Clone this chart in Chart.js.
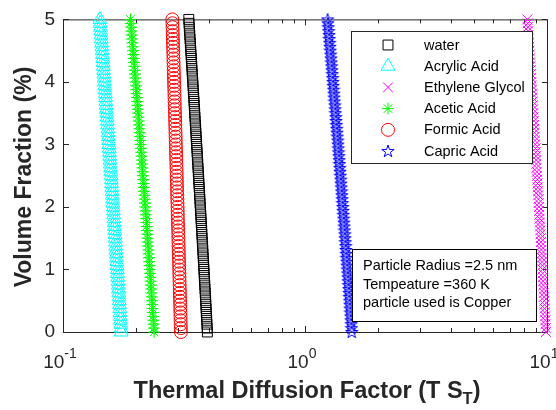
<!DOCTYPE html>
<html>
<head>
<meta charset="utf-8">
<script src="https://cdn.jsdelivr.net/npm/chart.js@4.4.0/dist/chart.umd.min.js"></script>
<style>
  html, body { margin: 0; padding: 0; background: #fff; }
  #wrap { width: 556px; height: 410px; }
</style>
</head>
<body>
<div id="wrap"><canvas id="chart" width="556" height="410"></canvas></div>
<script>
// volume fraction (%) - y values shared by every series
const volumeFraction = [
  0, 0.0625, 0.125, 0.1875, 0.25, 0.3125, 0.375, 0.4375, 0.5, 0.5625, 0.625, 0.6875, 0.75, 0.8125, 0.875, 0.9375,
  1, 1.0625, 1.125, 1.1875, 1.25, 1.3125, 1.375, 1.4375, 1.5, 1.5625, 1.625, 1.6875, 1.75, 1.8125, 1.875, 1.9375,
  2, 2.0625, 2.125, 2.1875, 2.25, 2.3125, 2.375, 2.4375, 2.5, 2.5625, 2.625, 2.6875, 2.75, 2.8125, 2.875, 2.9375,
  3, 3.0625, 3.125, 3.1875, 3.25, 3.3125, 3.375, 3.4375, 3.5, 3.5625, 3.625, 3.6875, 3.75, 3.8125, 3.875, 3.9375,
  4, 4.0625, 4.125, 4.1875, 4.25, 4.3125, 4.375, 4.4375, 4.5, 4.5625, 4.625, 4.6875, 4.75, 4.8125, 4.875, 4.9375,
  5
];

// thermal diffusion factor (T S_T) for each base fluid
const water = [
  0.3950, 0.3942, 0.3934, 0.3926, 0.3918, 0.3910, 0.3902, 0.3894, 0.3886, 0.3878,
  0.3870, 0.3862, 0.3854, 0.3846, 0.3838, 0.3830, 0.3822, 0.3814, 0.3806, 0.3798,
  0.3790, 0.3782, 0.3774, 0.3766, 0.3758, 0.3750, 0.3742, 0.3734, 0.3726, 0.3718,
  0.3710, 0.3702, 0.3694, 0.3686, 0.3678, 0.3670, 0.3662, 0.3654, 0.3646, 0.3638,
  0.3630, 0.3622, 0.3614, 0.3606, 0.3598, 0.3590, 0.3582, 0.3574, 0.3566, 0.3558,
  0.3550, 0.3542, 0.3534, 0.3526, 0.3518, 0.3510, 0.3502, 0.3494, 0.3486, 0.3478,
  0.3470, 0.3462, 0.3454, 0.3446, 0.3438, 0.3430, 0.3422, 0.3414, 0.3406, 0.3398,
  0.3390, 0.3382, 0.3374, 0.3366, 0.3358, 0.3350, 0.3342, 0.3334, 0.3326, 0.3318,
  0.3310
];
const acrylicAcid = [
  0.1740, 0.1736, 0.1732, 0.1728, 0.1724, 0.1720, 0.1716, 0.1712, 0.1708, 0.1704,
  0.1700, 0.1696, 0.1692, 0.1688, 0.1684, 0.1680, 0.1676, 0.1672, 0.1668, 0.1664,
  0.1660, 0.1656, 0.1652, 0.1648, 0.1644, 0.1640, 0.1636, 0.1632, 0.1628, 0.1624,
  0.1620, 0.1616, 0.1612, 0.1608, 0.1604, 0.1600, 0.1596, 0.1592, 0.1588, 0.1584,
  0.1580, 0.1576, 0.1572, 0.1568, 0.1564, 0.1560, 0.1556, 0.1552, 0.1548, 0.1544,
  0.1540, 0.1536, 0.1532, 0.1528, 0.1524, 0.1520, 0.1516, 0.1512, 0.1508, 0.1504,
  0.1500, 0.1496, 0.1492, 0.1488, 0.1484, 0.1480, 0.1476, 0.1472, 0.1468, 0.1464,
  0.1460, 0.1456, 0.1452, 0.1448, 0.1444, 0.1440, 0.1436, 0.1432, 0.1428, 0.1424,
  0.1420
];
const ethyleneGlycol = [
  9.90, 9.88, 9.86, 9.84, 9.82, 9.80, 9.78, 9.76, 9.74, 9.72,
  9.70, 9.68, 9.66, 9.64, 9.62, 9.60, 9.58, 9.56, 9.54, 9.52,
  9.50, 9.48, 9.46, 9.44, 9.42, 9.40, 9.38, 9.36, 9.34, 9.32,
  9.30, 9.28, 9.26, 9.24, 9.22, 9.20, 9.18, 9.16, 9.14, 9.12,
  9.10, 9.08, 9.06, 9.04, 9.02, 9.00, 8.98, 8.96, 8.94, 8.92,
  8.90, 8.88, 8.86, 8.84, 8.82, 8.80, 8.78, 8.76, 8.74, 8.72,
  8.70, 8.68, 8.66, 8.64, 8.62, 8.60, 8.58, 8.56, 8.54, 8.52,
  8.50, 8.48, 8.46, 8.44, 8.42, 8.40, 8.38, 8.36, 8.34, 8.32,
  8.30
];
const aceticAcid = [
  0.2380, 0.2374, 0.2368, 0.2362, 0.2356, 0.2350, 0.2344, 0.2338, 0.2332, 0.2326,
  0.2320, 0.2314, 0.2308, 0.2302, 0.2296, 0.2290, 0.2284, 0.2278, 0.2272, 0.2266,
  0.2260, 0.2254, 0.2248, 0.2242, 0.2236, 0.2230, 0.2224, 0.2218, 0.2212, 0.2206,
  0.2200, 0.2194, 0.2188, 0.2182, 0.2176, 0.2170, 0.2164, 0.2158, 0.2152, 0.2146,
  0.2140, 0.2134, 0.2128, 0.2122, 0.2116, 0.2110, 0.2104, 0.2098, 0.2092, 0.2086,
  0.2080, 0.2074, 0.2068, 0.2062, 0.2056, 0.2050, 0.2044, 0.2038, 0.2032, 0.2026,
  0.2020, 0.2014, 0.2008, 0.2002, 0.1996, 0.1990, 0.1984, 0.1978, 0.1972, 0.1966,
  0.1960, 0.1954, 0.1948, 0.1942, 0.1936, 0.1930, 0.1924, 0.1918, 0.1912, 0.1906,
  0.1900
];
const formicAcid = [
  0.3070, 0.3067, 0.3064, 0.3061, 0.3058, 0.3055, 0.3052, 0.3049, 0.3046, 0.3043,
  0.3040, 0.3037, 0.3034, 0.3031, 0.3028, 0.3025, 0.3022, 0.3019, 0.3016, 0.3013,
  0.3010, 0.3007, 0.3004, 0.3001, 0.2998, 0.2995, 0.2992, 0.2989, 0.2986, 0.2983,
  0.2980, 0.2977, 0.2974, 0.2971, 0.2968, 0.2965, 0.2962, 0.2959, 0.2956, 0.2953,
  0.2950, 0.2947, 0.2944, 0.2941, 0.2938, 0.2935, 0.2932, 0.2929, 0.2926, 0.2923,
  0.2920, 0.2917, 0.2914, 0.2911, 0.2908, 0.2905, 0.2902, 0.2899, 0.2896, 0.2893,
  0.2890, 0.2887, 0.2884, 0.2881, 0.2878, 0.2875, 0.2872, 0.2869, 0.2866, 0.2863,
  0.2860, 0.2857, 0.2854, 0.2851, 0.2848, 0.2845, 0.2842, 0.2839, 0.2836, 0.2833,
  0.2830
];
const capricAcid = [
  1.560, 1.556, 1.552, 1.548, 1.544, 1.540, 1.536, 1.532, 1.528, 1.524,
  1.520, 1.516, 1.512, 1.508, 1.504, 1.500, 1.496, 1.492, 1.488, 1.484,
  1.480, 1.476, 1.472, 1.468, 1.464, 1.460, 1.456, 1.452, 1.448, 1.444,
  1.440, 1.436, 1.432, 1.428, 1.424, 1.420, 1.416, 1.412, 1.408, 1.404,
  1.400, 1.396, 1.392, 1.388, 1.384, 1.380, 1.376, 1.372, 1.368, 1.364,
  1.360, 1.356, 1.352, 1.348, 1.344, 1.340, 1.336, 1.332, 1.328, 1.324,
  1.320, 1.316, 1.312, 1.308, 1.304, 1.300, 1.296, 1.292, 1.288, 1.284,
  1.280, 1.276, 1.272, 1.268, 1.264, 1.260, 1.256, 1.252, 1.248, 1.244,
  1.240
];

const seriesNames = ['water', 'Acrylic Acid', 'Ethylene Glycol', 'Acetic Acid', 'Formic Acid', 'Capric Acid'];
const yTicks = [0, 1, 2, 3, 4, 5];
const xMajorTicks = [0.1, 1, 10];
const xTickExponents = ['-1', '0', '1'];
const xMinorTicks = [0.2, 0.3, 0.4, 0.5, 0.6, 0.7, 0.8, 0.9, 2, 3, 4, 5, 6, 7, 8, 9];
const noteLines = ['Particle Radius =2.5 nm', 'Tempeature =360 K', 'particle used is Copper'];

const FONT = '"Liberation Sans", Arial, Helvetica, sans-serif';
const AXIS_COLOR = '#262626';

// MATLAB style pentagram, Chart.js has no such point style
function pentagram(size, color) {
  const c = document.createElement('canvas');
  c.width = size;
  c.height = size;
  const g = c.getContext('2d');
  const r = size / 2 - 0.5, ri = r * 0.382, cx = size / 2, cy = size / 2 + 0.5;
  g.beginPath();
  for (let k = 0; k < 10; k++) {
    const a = -Math.PI / 2 + k * Math.PI / 5;
    const rr = k % 2 ? ri : r;
    g.lineTo(cx + rr * Math.cos(a), cy + rr * Math.sin(a));
  }
  g.closePath();
  g.strokeStyle = color;
  g.lineWidth = 1;
  g.stroke();
  return c;
}

function toPoints(xs) {
  return volumeFraction.map((v, i) => ({ x: xs[i], y: v }));
}

function series(label, xs, color, style, radius) {
  return {
    label: label,
    data: toPoints(xs),
    showLine: false,
    borderColor: color,
    backgroundColor: 'rgba(0,0,0,0)',
    pointStyle: style,
    pointRadius: radius,
    pointBorderWidth: 1,
    clip: false
  };
}

const datasets = [
  series(seriesNames[0], water, '#000000', 'rect', 7),
  series(seriesNames[1], acrylicAcid, '#00FFFF', 'triangle', 8),
  series(seriesNames[2], ethyleneGlycol, '#FF00FF', 'crossRot', 7),
  series(seriesNames[3], aceticAcid, '#00FF00', 'star', 6),
  series(seriesNames[4], formicAcid, '#FF0000', 'circle', 6.5),
  series(seriesNames[5], capricAcid, '#0000FF', pentagram(14, '#0000FF'), 7)
];

// box, inward ticks on all four sides
const axesBox = {
  id: 'axesBox',
  beforeDatasetsDraw(chart) {
    const { ctx, chartArea: a, scales: { x, y } } = chart;
    ctx.save();
    ctx.strokeStyle = AXIS_COLOR;
    ctx.lineWidth = 1;
    ctx.beginPath();
    ctx.rect(a.left + 0.5, a.top + 0.5, a.right - a.left, a.bottom - a.top);
    yTicks.forEach(t => {
      const py = Math.round(y.getPixelForValue(t)) + 0.5;
      ctx.moveTo(a.left, py); ctx.lineTo(a.left + 6, py);
      ctx.moveTo(a.right, py); ctx.lineTo(a.right - 5, py);
    });
    const tick = (v, len) => {
      const px = Math.round(x.getPixelForValue(v)) + 0.5;
      ctx.moveTo(px, a.bottom); ctx.lineTo(px, a.bottom - len);
      ctx.moveTo(px, a.top); ctx.lineTo(px, a.top + len);
    };
    xMajorTicks.forEach(v => tick(v, 6));
    xMinorTicks.forEach(v => tick(v, 4));
    ctx.stroke();
    ctx.restore();
  }
};

// legend, note box, x tick labels with exponents, axis titles
const decorations = {
  id: 'decorations',
  afterDatasetsDraw(chart) {
    const { ctx, scales: { x } } = chart;
    ctx.save();

    // legend
    ctx.fillStyle = '#fff';
    ctx.fillRect(351, 31, 181, 132);
    ctx.strokeStyle = AXIS_COLOR;
    ctx.lineWidth = 1;
    ctx.strokeRect(351.5, 31.5, 181, 132);
    chart.data.datasets.forEach((ds, i) => {
      const cy = 45 + i * 21.2;
      ctx.strokeStyle = ds.borderColor;
      ctx.fillStyle = 'rgba(0,0,0,0)';
      ctx.lineWidth = 1;
      Chart.helpers.drawPoint(ctx, {
        pointStyle: ds.pointStyle, radius: ds.pointRadius, borderWidth: 1, rotation: 0
      }, 388, cy);
      ctx.fillStyle = '#000';
      ctx.font = '14.5px ' + FONT;
      ctx.textAlign = 'left';
      ctx.textBaseline = 'middle';
      ctx.fillText(ds.label, 424, cy + 0.5);
    });

    // note box
    ctx.fillStyle = '#fff';
    ctx.fillRect(352, 249, 184, 72);
    ctx.strokeStyle = '#000';
    ctx.strokeRect(352.5, 249.5, 184, 72);
    ctx.fillStyle = '#000';
    ctx.font = '14.5px ' + FONT;
    noteLines.forEach((t, i) => ctx.fillText(t, 363, 266 + i * 18.5));

    // x tick labels 10^n
    ctx.fillStyle = AXIS_COLOR;
    ctx.textBaseline = 'alphabetic';
    xMajorTicks.forEach((v, i) => {
      const px = x.getPixelForValue(v);
      ctx.font = '19px ' + FONT;
      const wb = ctx.measureText('10').width;
      ctx.font = '14px ' + FONT;
      const we = ctx.measureText(xTickExponents[i]).width;
      const left = px - 3 - (wb + we) / 2;
      ctx.font = '19px ' + FONT;
      ctx.fillText('10', left, 368);
      ctx.font = '14px ' + FONT;
      ctx.fillText(xTickExponents[i], left + wb, 358);
    });

    // x title with subscript
    ctx.fillStyle = AXIS_COLOR;
    const main = 'Thermal Diffusion Factor (T S';
    ctx.font = 'bold 23.5px ' + FONT;
    const w1 = ctx.measureText(main).width;
    const w3 = ctx.measureText(')').width;
    ctx.font = 'bold 16.5px ' + FONT;
    const w2 = ctx.measureText('T').width;
    const tx = 307 - (w1 + w2 + w3) / 2;
    ctx.font = 'bold 23.5px ' + FONT;
    ctx.fillText(main, tx, 398);
    ctx.font = 'bold 16.5px ' + FONT;
    ctx.fillText('T', tx + w1, 404);
    ctx.font = 'bold 23.5px ' + FONT;
    ctx.fillText(')', tx + w1 + w2, 398);

    // y title
    ctx.translate(25, 177);
    ctx.rotate(-Math.PI / 2);
    ctx.textAlign = 'center';
    ctx.textBaseline = 'middle';
    ctx.font = 'bold 23px ' + FONT;
    ctx.fillText('Volume Fraction (%)', 0, 0);

    ctx.restore();
  }
};

new Chart(document.getElementById('chart'), {
  type: 'scatter',
  data: { datasets: datasets },
  options: {
    responsive: false,
    animation: false,
    devicePixelRatio: 1,
    layout: { padding: { top: 14, right: 7, left: 0, bottom: 0 } },
    plugins: { legend: { display: false }, tooltip: { enabled: false } },
    scales: {
      x: {
        type: 'logarithmic',
        min: 0.1,
        max: 10,
        grid: { display: false, drawTicks: false },
        border: { display: false },
        ticks: { display: false },
        afterFit(scale) { scale.height = 78; }
      },
      y: {
        min: 0,
        max: 5,
        grid: { display: false, drawTicks: false },
        border: { display: false },
        ticks: {
          stepSize: 1,
          padding: 8,
          color: AXIS_COLOR,
          font: { family: FONT, size: 19 }
        },
        afterFit(scale) { scale.width = 63; }
      }
    }
  },
  plugins: [axesBox, decorations]
});
</script>
</body>
</html>
